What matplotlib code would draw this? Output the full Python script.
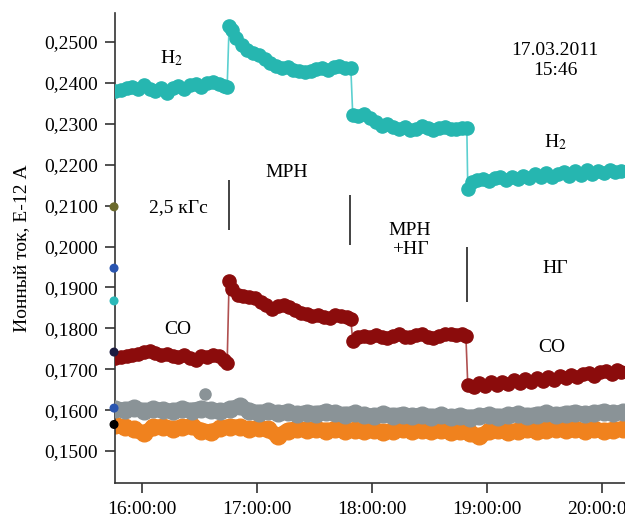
import numpy as np
import matplotlib
matplotlib.use('Agg')
import matplotlib.pyplot as plt

plt.rcParams['font.family'] = ['Liberation Serif', 'DejaVu Serif']
plt.rcParams['mathtext.fontset'] = 'stix'

# time in minutes since midnight, values in E-12 A
h2_t = [946, 949, 952, 955, 958, 961, 964, 967, 970, 973, 976, 979, 982, 985, 988, 991, 994, 997, 1000, 1003, 1004.5,
        1005.5, 1007, 1009, 1012, 1015, 1018, 1021, 1024, 1027, 1030, 1033, 1036, 1039, 1042, 1045, 1048, 1051,
        1054, 1057, 1060, 1063, 1066, 1069,
        1070, 1073, 1076, 1079, 1082, 1085, 1088, 1091, 1094, 1097, 1100, 1103, 1106, 1109, 1112, 1115, 1118,
        1121, 1124, 1127, 1129.5,
        1130, 1132, 1135, 1138, 1141, 1144, 1147, 1150, 1153, 1156, 1159, 1162, 1165, 1168, 1171, 1174, 1177,
        1180, 1183, 1186, 1189, 1192, 1195, 1198, 1201, 1204, 1207, 1210]
h2_v = [0.2380, 0.2382, 0.2387, 0.2390, 0.2384, 0.2394, 0.2386, 0.2380, 0.2388, 0.2376, 0.2387, 0.2392, 0.2385,
        0.2394, 0.2397, 0.2391, 0.2400, 0.2402, 0.2396, 0.2393, 0.2390,
        0.2538, 0.2528, 0.2510, 0.2492, 0.2480, 0.2472, 0.2468, 0.2458, 0.2448, 0.2440, 0.2436, 0.2438, 0.2432,
        0.2430, 0.2427, 0.2429, 0.2434, 0.2436, 0.2432, 0.2438, 0.2440, 0.2437, 0.2436,
        0.2322, 0.2318, 0.2324, 0.2313, 0.2305, 0.2295, 0.2300, 0.2291, 0.2286, 0.2291, 0.2284, 0.2288, 0.2294,
        0.2290, 0.2285, 0.2290, 0.2293, 0.2287, 0.2288, 0.2289, 0.2289,
        0.2140, 0.2158, 0.2162, 0.2166, 0.2159, 0.2167, 0.2169, 0.2162, 0.2171, 0.2165, 0.2173, 0.2167, 0.2176,
        0.2169, 0.2179, 0.2171, 0.2176, 0.2181, 0.2173, 0.2184, 0.2175, 0.2186, 0.2177, 0.2184, 0.2179, 0.2188,
        0.2181, 0.2185]

co_t = [946, 949, 952, 955, 958, 961, 964, 967, 970, 973, 976, 979, 982, 985, 988, 991, 994, 997, 1000, 1003, 1004.5,
        1005.5, 1007, 1010, 1013, 1016, 1019, 1022, 1025, 1028, 1031, 1034, 1037, 1040, 1043, 1046, 1049, 1052,
        1055, 1058, 1061, 1064, 1067, 1069,
        1070, 1073, 1076, 1079, 1082, 1085, 1088, 1091, 1094, 1097, 1100, 1103, 1106, 1109, 1112, 1115, 1118,
        1121, 1124, 1127, 1129,
        1130, 1133, 1136, 1139, 1142, 1145, 1148, 1151, 1154, 1157, 1160, 1163, 1166, 1169, 1172, 1175, 1178,
        1181, 1184, 1187, 1190, 1193, 1196, 1199, 1202, 1205, 1208, 1210]
co_v = [0.1728, 0.1730, 0.1733, 0.1735, 0.1738, 0.1742, 0.1745, 0.1740, 0.1736, 0.1738, 0.1733, 0.1730, 0.1735,
        0.1728, 0.1722, 0.1732, 0.1730, 0.1735, 0.1733, 0.1722, 0.1716,
        0.1915, 0.1895, 0.1882, 0.1880, 0.1876, 0.1873, 0.1865, 0.1858, 0.1848, 0.1855, 0.1858, 0.1852, 0.1845,
        0.1838, 0.1835, 0.1830, 0.1832, 0.1828, 0.1826, 0.1832, 0.1830, 0.1828, 0.1822,
        0.1768, 0.1778, 0.1782, 0.1780, 0.1784, 0.1778, 0.1776, 0.1781, 0.1785, 0.1780, 0.1778, 0.1784, 0.1786,
        0.1780, 0.1776, 0.1782, 0.1785, 0.1787, 0.1784, 0.1785, 0.1782,
        0.1662, 0.1656, 0.1666, 0.1659, 0.1669, 0.1661, 0.1669, 0.1663, 0.1673, 0.1666, 0.1676, 0.1668, 0.1679,
        0.1671, 0.1681, 0.1674, 0.1684, 0.1678, 0.1687, 0.1680, 0.1689, 0.1691, 0.1684, 0.1693, 0.1696, 0.1688,
        0.1697, 0.1693]

bg_t = list(range(946, 1212, 5))
gray_v = [0.1603, 0.1600, 0.1605, 0.1598, 0.1602, 0.1600, 0.1597, 0.1603, 0.1599, 0.1604, 0.1600, 0.1597, 0.1602,
          0.1610, 0.1598, 0.1594, 0.1597, 0.1593, 0.1595, 0.1590, 0.1594, 0.1591, 0.1596, 0.1592, 0.1589, 0.1592,
          0.1588, 0.1585, 0.1590, 0.1586, 0.1589, 0.1585, 0.1588, 0.1584, 0.1587, 0.1583, 0.1586, 0.1582, 0.1585,
          0.1588, 0.1584, 0.1587, 0.1590, 0.1586, 0.1589, 0.1592, 0.1588, 0.1591, 0.1594, 0.1590, 0.1593, 0.1596,
          0.1592, 0.1595]
orange_v = [0.1563, 0.1558, 0.1553, 0.1543, 0.1558, 0.1560, 0.1555, 0.1558, 0.1561, 0.1550, 0.1546, 0.1556, 0.1560,
            0.1558, 0.1554, 0.1557, 0.1553, 0.1536, 0.1550, 0.1555, 0.1551, 0.1554, 0.1550, 0.1553, 0.1549, 0.1552,
            0.1548, 0.1551, 0.1547, 0.1550, 0.1553, 0.1549, 0.1552, 0.1548, 0.1551, 0.1547, 0.1550, 0.1543, 0.1536,
            0.1548, 0.1551, 0.1547, 0.1550, 0.1553, 0.1549, 0.1552, 0.1555, 0.1551, 0.1554, 0.1550, 0.1553, 0.1549,
            0.1552, 0.1554]
gray_extra_t = [993]
gray_extra_v = [0.1640]

# stray legend dots on the left edge
edge_v = [0.2097, 0.1947, 0.1867, 0.1742, 0.1605, 0.1565]
edge_c = ['#6b6a2c', '#2a55b0', '#2bb9b9', '#1c1c40', '#2a55b0', '#000000']

# regime separators: time, lower, upper
sep_t = [1005.5, 1068.6, 1129.6]
sep_lo = [0.2040, 0.2004, 0.1864]
sep_hi = [0.2163, 0.2126, 0.1999]

tick_t = [960, 1020, 1080, 1140, 1200]
tick_lbl = ['16:00:00', '17:00:00', '18:00:00', '19:00:00', '20:00:00']
y_ticks = [0.15, 0.16, 0.17, 0.18, 0.19, 0.20, 0.21, 0.22, 0.23, 0.24, 0.25]

fig = plt.figure(figsize=(6.25, 5.2), dpi=100)
ax = fig.add_axes([0.184, 0.0712, 0.816, 0.904])

ax.plot(bg_t, orange_v, color='#f0821e', lw=11, solid_capstyle='round', zorder=2)
ax.plot(bg_t, orange_v, 'o', color='#f0821e', ms=12, zorder=2)
ax.plot(bg_t, gray_v, color='#8a9397', lw=11, solid_capstyle='round', zorder=3)
ax.plot(bg_t, gray_v, 'o', color='#8a9397', ms=12, zorder=3)
ax.plot(gray_extra_t, gray_extra_v, 'o', color='#8a9397', ms=8, zorder=3)

ax.plot(co_t, co_v, color='#b05050', lw=1.2, zorder=4)
ax.plot(co_t, co_v, 'o', color='#8b0c0c', ms=9.5, zorder=4)
ax.plot(h2_t, h2_v, color='#5cd0d0', lw=1.2, zorder=4)
ax.plot(h2_t, h2_v, 'o', color='#26b6b0', ms=9.5, zorder=4)

ax.scatter([945.5] * len(edge_v), edge_v, c=edge_c, s=30, zorder=6, clip_on=False)

ax.vlines(sep_t, sep_lo, sep_hi, color='#222222', lw=1.2)

fs = 14
ax.text(975.7, 0.2461, 'H$_2$', fontsize=fs, ha='center', va='center')
ax.text(1175.6, 0.2256, 'H$_2$', fontsize=fs, ha='center', va='center')
ax.text(978.9, 0.2094, '2,5 кГс', fontsize=fs, ha='center', va='center')
ax.text(1035.7, 0.2182, 'МРН', fontsize=fs, ha='center', va='center')
ax.text(1099.9, 0.2016, 'МРН\n+НГ', fontsize=fs, ha='center', va='center', linespacing=1.2)
ax.text(1175.6, 0.1947, 'НГ', fontsize=fs, ha='center', va='center')
ax.text(978.9, 0.1796, 'CO', fontsize=fs, ha='center', va='center')
ax.text(1174, 0.1754, 'CO', fontsize=fs, ha='center', va='center')
ax.text(1175.6, 0.2454, '17.03.2011\n15:46', fontsize=fs, ha='center', va='center', linespacing=1.2)

ax.set_xlim(946, 1212)
ax.set_ylim(0.1422, 0.2571)
ax.set_xticks(tick_t)
ax.set_xticklabels(tick_lbl)
ax.set_yticks(y_ticks)
ax.set_yticklabels([f'{v:.4f}'.replace('.', ',') for v in y_ticks])
ax.tick_params(axis='both', labelsize=fs, length=7, width=1.2, color='#333333', direction='out')
ax.tick_params(axis='x', pad=6)
ax.tick_params(axis='y', pad=5)
ax.set_ylabel('Ионный ток, Е-12 А', fontsize=fs, labelpad=10)

for s in ['top', 'right']:
    ax.spines[s].set_visible(False)
for s in ['left', 'bottom']:
    ax.spines[s].set_linewidth(1.2)
    ax.spines[s].set_color('#333333')

fig.savefig('out.png', dpi=100)
